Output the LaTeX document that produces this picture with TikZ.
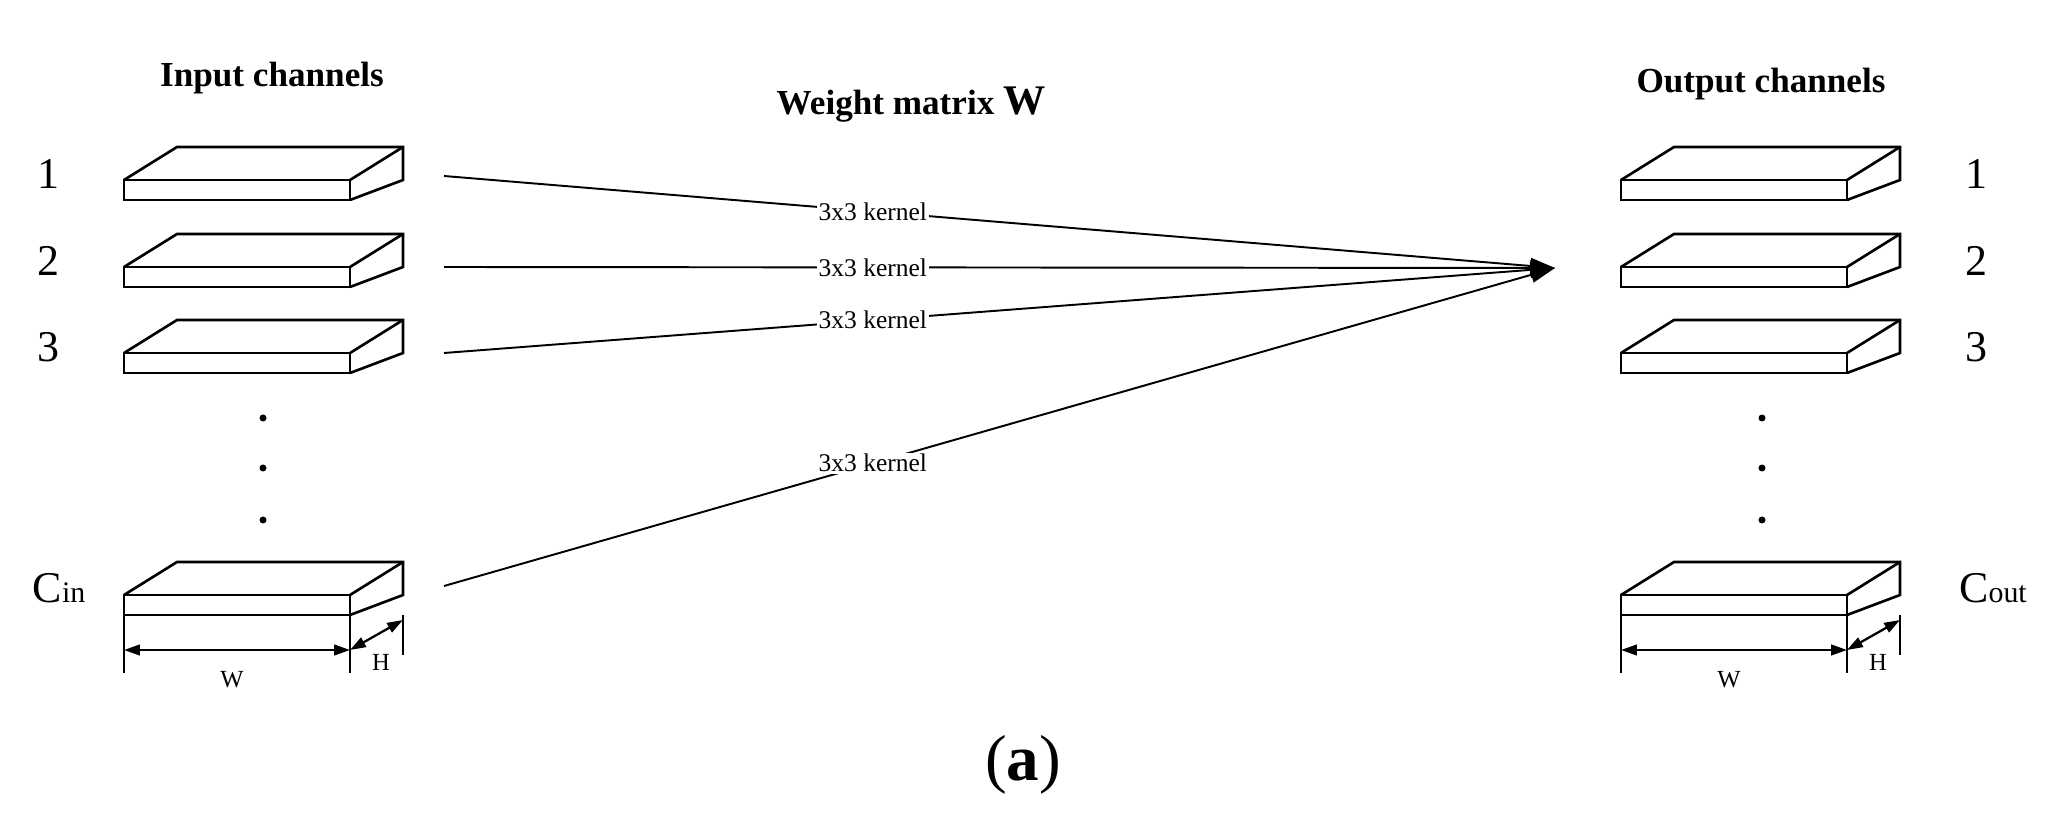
\documentclass[tikz,border=0pt]{standalone}
\usepackage{fontspec}
\setmainfont{Liberation Serif}
\usetikzlibrary{arrows.meta,positioning}

% one feature map: front face at (x,y) in pixel units, y pointing down
\newcommand\slab[2]{%
  \draw[slab] (#1,#2) rectangle ++(226,20);
  \draw[slab] (#1,#2) -- ++(53,-33) -- ++(226,0) -- ++(0,33) -- ++(-53,20);
  \draw[slab] (#1+226,#2) -- ++(53,-33);}

\begin{document}
\begin{tikzpicture}[x=0.2mm,y=-0.2mm,
    slab/.style={line width=1.5pt,line join=miter},
    conn/.style={line width=1.1pt},
    title/.style={font=\fontsize{20}{24}\selectfont\bfseries},
    num/.style={font=\fontsize{25}{28}\selectfont},
    kern/.style={font=\fontsize{14.5}{16}\selectfont,fill=white,inner sep=1pt},
    dim/.style={font=\fontsize{14}{16}\selectfont},
    dimarr/.style={line width=1.3pt,{Triangle[length=9pt,width=6pt]}-{Triangle[length=9pt,width=6pt]}}]
  \useasboundingbox (0,0) rectangle (2049,830);

  % titles
  \node[title] (tin) at (272,78) {Input channels};
  \node[title] (tw) at (911,105) {Weight matrix \fontsize{24}{28}\selectfont W};
  \node[title] (tout) at (1761,84) {Output channels};
  \node[font=\fontsize{37}{40}\selectfont] (cap) at (1023,765) {(\textbf{a})};

  % input and output maps
  \foreach \y/\t [count=\i] in {180/1,267/2,353/3} {
    \slab{124}{\y}
    \slab{1621}{\y}
    \node[num] (in\i) at (48,\y-6) {\t};
    \node[num] (out\i) at (1976,\y-6) {\t};
  }
  \slab{124}{595}
  \slab{1621}{595}
  \node[num] (inC) at (59,588) {C{\fontsize{17}{20}\selectfont in}};
  \node[num] (outC) at (1993,588) {C{\fontsize{17}{20}\selectfont out}};

  % dots
  \foreach \y in {418,468,520} {
    \fill (263,\y) circle (3.5);
    \fill (1762,\y) circle (3.5);
  }

  % dimensions
  \foreach \x in {124,1621} {
    \draw[slab] (\x,615) -- (\x,673);
    \draw[slab] (\x+226,615) -- (\x+226,673);
    \draw[slab] (\x+279,615) -- (\x+279,655);
    \draw[dimarr] (\x,650) -- (\x+226,650);
    \draw[dimarr] (\x+226,650) -- (\x+279,620);
    \node[dim] at (\x+108,680) {W};
    \node[dim] at (\x+257,662) {H};
  }

  % kernels
  \coordinate (s1) at (444,176);
  \coordinate (s2) at (444,267);
  \coordinate (s3) at (444,353);
  \coordinate (s4) at (444,586);
  \coordinate (tip) at (1555,268);
  \foreach \s in {s1,s2,s3,s4}
    \draw[conn,-{Triangle[length=14pt,width=9pt]}] (\s) -- (tip) node[kern,pos=0.386] {3x3 kernel};
\end{tikzpicture}
\end{document}
